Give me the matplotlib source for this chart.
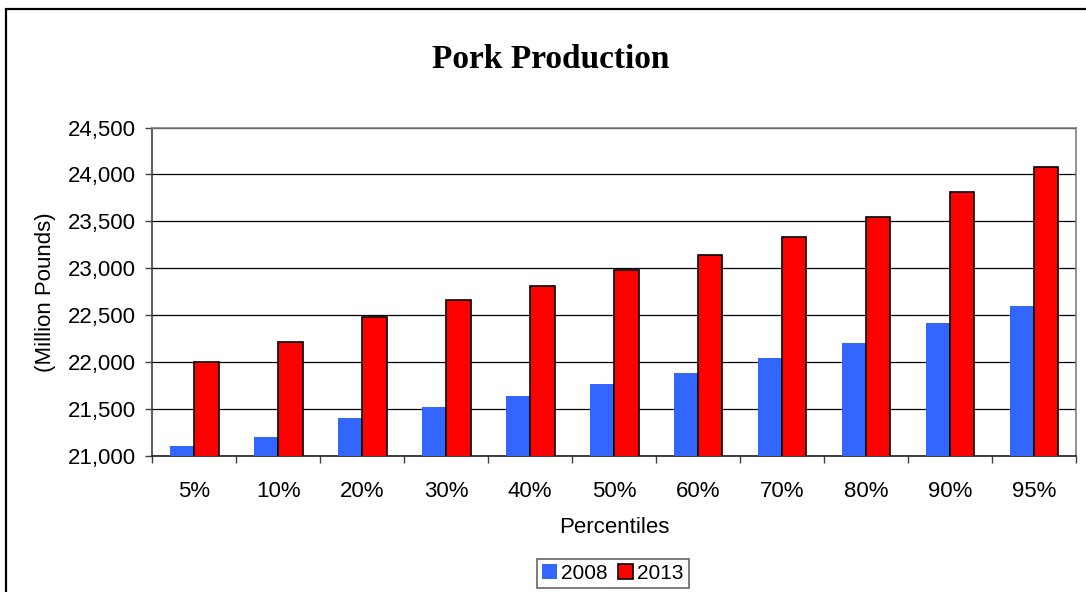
import matplotlib
matplotlib.use("Agg")
import matplotlib.pyplot as plt
import numpy as np
from matplotlib.patches import Rectangle
from matplotlib.ticker import FuncFormatter, FixedLocator

categories = ["5%", "10%", "20%", "30%", "40%", "50%", "60%", "70%", "80%", "90%", "95%"]
values_2008 = [21110, 21205, 21407, 21524, 21634, 21762, 21888, 22043, 22202, 22415, 22599]
values_2013 = [22006, 22216, 22485, 22660, 22808, 22980, 23145, 23336, 23545, 23811, 24081]
yticks = [21000, 21500, 22000, 22500, 23000, 23500, 24000, 24500]

plt.rcParams['font.family'] = ['Liberation Sans', 'DejaVu Sans']

W, H = 1086, 592
fig = plt.figure(figsize=(W / 100, H / 100), dpi=100)
fig.patch.set_facecolor('white')

# outer chart border
fig.add_artist(Rectangle((5.5 / W, -0.2), 1.5, 1.2 - 8.5 / H, transform=fig.transFigure,
                         fill=False, edgecolor='black', linewidth=1.6))

ax = fig.add_axes([152.3 / W, 1 - 456 / H, (1076 - 152.3) / W, (456 - 127.5) / H])

x = np.arange(len(categories))
bw = 0.29
ax.bar(x - bw / 2, values_2008, width=bw, color='#3366FF', edgecolor='none', label='2008', zorder=3)
ax.bar(x + bw / 2, values_2013, width=bw, color='#FF0000', edgecolor='black', linewidth=1.2,
       label='2013', zorder=3)

ax.set_xlim(-0.5, len(categories) - 0.5)
ax.set_ylim(21000, 24500)
ax.set_yticks(yticks)
ax.yaxis.set_major_formatter(FuncFormatter(lambda v, p: f"{int(v):,}"))
ax.yaxis.grid(True, color='black', linewidth=0.9, zorder=0)
ax.set_axisbelow(True)

ax.set_xticks(x)
ax.set_xticklabels(categories)
ax.xaxis.set_minor_locator(FixedLocator(np.arange(-0.5, len(categories), 1.0)))
ax.tick_params(axis='x', which='major', length=0, pad=18, labelsize=16)
ax.tick_params(axis='x', which='minor', length=5, width=1.0, color='#404040', direction='out')
ax.tick_params(axis='y', which='major', length=5, width=1.0, color='#404040', direction='out',
               pad=7, labelsize=16)

for s in ['top', 'right']:
    ax.spines[s].set_color('#808080')
    ax.spines[s].set_linewidth(1.2)
ax.spines['left'].set_color('#404040')
ax.spines['left'].set_linewidth(1.2)
ax.spines['bottom'].set_color('#202020')
ax.spines['bottom'].set_linewidth(1.2)

ax.set_xlabel('Percentiles', fontsize=16, labelpad=11)
ax.set_ylabel('(Million Pounds)', fontsize=16, labelpad=8)

fig.text(551 / W, 1 - 60 / H, 'Pork Production', ha='center', va='center',
         fontsize=24, fontweight='bold', family=['Liberation Serif', 'DejaVu Serif'])

leg = ax.legend(loc='center', bbox_to_anchor=(613 / W, 1 - 573.5 / H), bbox_transform=fig.transFigure,
                ncol=2, fontsize=15, frameon=True, fancybox=False, handlelength=0.7, handleheight=0.7,
                handletextpad=0.2, columnspacing=0.5, borderpad=0.25, borderaxespad=0)
leg.get_frame().set_edgecolor('#404040')
leg.get_frame().set_linewidth(1.2)

fig.savefig('out.png', dpi=100, facecolor='white')
